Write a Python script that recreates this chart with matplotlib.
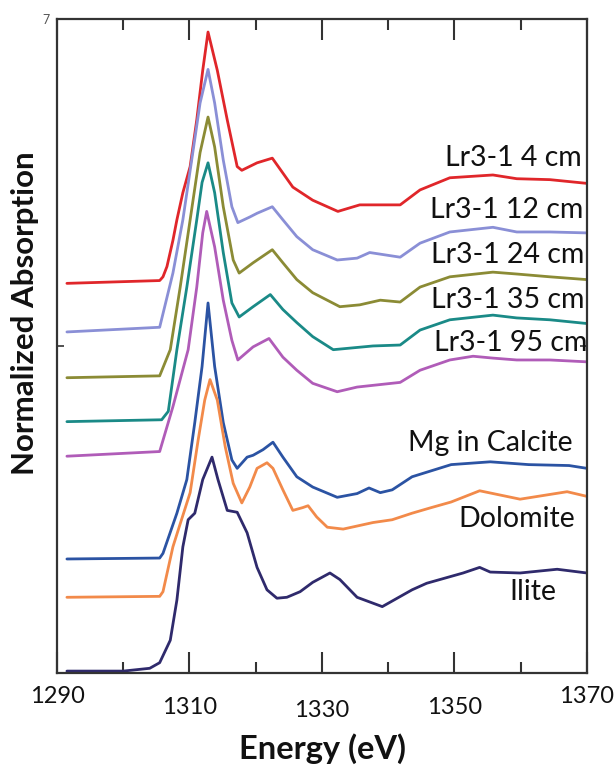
import matplotlib.pyplot as plt

# energy (eV) / normalized absorption (stacked, arbitrary offset units)
x_4cm = [1291.5, 1305.5, 1306.0, 1306.6, 1307.5, 1308.1, 1309.0, 1310.1, 1311.1, 1312.0, 1312.8,
         1314.2, 1315.7, 1317.2, 1317.9, 1320.2, 1322.5, 1324.1, 1325.6, 1328.6, 1332.4, 1335.7,
         1341.8, 1344.8, 1349.3, 1355.8, 1359.4, 1364.4, 1370.0]
y_4cm = [4.17, 4.20, 4.24, 4.35, 4.63, 4.85, 5.14, 5.42, 5.92, 6.45, 6.86,
         6.45, 5.92, 5.42, 5.38, 5.46, 5.51, 5.35, 5.20, 5.06, 4.94, 5.01,
         5.01, 5.17, 5.30, 5.33, 5.29, 5.28, 5.24]

x_12cm = [1291.5, 1305.5, 1307.5, 1309.0, 1310.5, 1311.6, 1312.8, 1313.8, 1315.1, 1316.4, 1317.3,
          1319.1, 1320.2, 1322.5, 1324.1, 1326.2, 1328.6, 1332.3, 1335.3, 1337.2, 1341.8, 1344.8,
          1349.3, 1355.8, 1359.4, 1364.4, 1370.0]
y_12cm = [3.65, 3.70, 4.28, 4.85, 5.57, 6.10, 6.46, 6.10, 5.49, 4.99, 4.82,
          4.88, 4.92, 4.99, 4.85, 4.67, 4.53, 4.42, 4.44, 4.50, 4.45, 4.60,
          4.72, 4.77, 4.72, 4.72, 4.71]

x_24cm = [1291.5, 1305.5, 1307.1, 1308.6, 1310.1, 1311.6, 1312.8, 1313.8, 1315.1, 1316.6, 1317.5,
          1319.6, 1322.5, 1324.1, 1326.2, 1328.6, 1332.7, 1335.7, 1338.8, 1341.8, 1344.8, 1349.3,
          1355.8, 1359.4, 1364.4, 1370.0]
y_24cm = [3.16, 3.18, 3.46, 4.13, 4.85, 5.57, 5.95, 5.63, 4.99, 4.42, 4.28,
          4.39, 4.53, 4.39, 4.21, 4.07, 3.92, 3.94, 3.99, 3.97, 4.13, 4.24,
          4.29, 4.27, 4.24, 4.21]

x_35cm = [1291.5, 1305.8, 1306.8, 1308.1, 1309.6, 1311.1, 1311.9, 1312.8, 1313.8, 1315.1, 1316.4,
          1317.5, 1319.6, 1322.2, 1324.1, 1326.2, 1328.6, 1331.7, 1337.7, 1341.8, 1344.8, 1349.3,
          1355.8, 1359.4, 1364.4, 1370.0]
y_35cm = [2.69, 2.71, 2.80, 3.46, 4.13, 4.85, 5.25, 5.46, 5.14, 4.50, 3.96,
          3.81, 3.92, 4.05, 3.89, 3.75, 3.60, 3.46, 3.50, 3.51, 3.67, 3.78,
          3.83, 3.80, 3.78, 3.74]

x_95cm = [1291.5, 1305.5, 1307.5, 1309.8, 1311.1, 1312.0, 1312.6, 1313.8, 1315.1, 1316.4, 1317.3,
          1319.6, 1322.0, 1324.1, 1326.2, 1328.6, 1332.3, 1335.3, 1341.8, 1344.8, 1349.3, 1352.8,
          1355.8, 1359.4, 1364.4, 1370.0]
y_95cm = [2.32, 2.37, 2.85, 3.46, 4.13, 4.71, 4.94, 4.56, 3.99, 3.56, 3.35,
          3.49, 3.58, 3.38, 3.24, 3.10, 3.01, 3.06, 3.11, 3.24, 3.35, 3.39,
          3.37, 3.35, 3.35, 3.33]

x_mg = [1291.5, 1305.5, 1306.0, 1308.1, 1309.6, 1310.8, 1311.9, 1312.8, 1313.8, 1315.1, 1316.4,
        1317.2, 1318.7, 1319.6, 1321.1, 1322.6, 1324.1, 1326.2, 1328.6, 1332.3, 1335.3, 1337.1,
        1338.8, 1340.6, 1343.6, 1349.5, 1355.4, 1361.2, 1367.3, 1370.0]
y_mg = [1.22, 1.23, 1.28, 1.71, 2.07, 2.68, 3.28, 3.96, 3.28, 2.68, 2.28,
        2.19, 2.31, 2.33, 2.39, 2.47, 2.31, 2.10, 1.99, 1.88, 1.92, 1.98,
        1.93, 1.96, 2.10, 2.23, 2.26, 2.23, 2.22, 2.19]

x_dolo = [1291.5, 1305.5, 1306.0, 1307.5, 1308.3, 1310.1, 1311.3, 1312.3, 1313.1, 1314.2, 1315.4,
          1316.6, 1317.9, 1319.1, 1320.2, 1321.7, 1322.6, 1324.1, 1325.6, 1327.1, 1327.9, 1329.2,
          1330.8, 1333.2, 1337.7, 1340.6, 1343.6, 1346.5, 1349.5, 1353.8, 1359.9, 1367.0, 1370.0]
y_dolo = [0.81, 0.82, 0.87, 1.35, 1.53, 1.93, 2.49, 2.92, 3.14, 2.92, 2.42,
          2.03, 1.82, 1.99, 2.19, 2.25, 2.19, 1.96, 1.74, 1.77, 1.79, 1.67,
          1.56, 1.54, 1.61, 1.64, 1.71, 1.77, 1.83, 1.95, 1.86, 1.94, 1.89]

x_ilite = [1291.5, 1300.0, 1304.0, 1305.5, 1307.1, 1308.1, 1309.0, 1309.8, 1310.8, 1312.0, 1313.4,
           1314.3, 1315.7, 1317.2, 1318.7, 1320.2, 1321.7, 1323.2, 1324.7, 1326.7, 1328.6, 1331.2,
           1332.7, 1335.3, 1339.1, 1343.6, 1345.8, 1351.3, 1353.8, 1355.4, 1359.9, 1365.5, 1370.0]
y_ilite = [0.02, 0.02, 0.05, 0.11, 0.35, 0.78, 1.35, 1.64, 1.71, 2.07, 2.31,
           2.07, 1.74, 1.72, 1.50, 1.13, 0.89, 0.80, 0.81, 0.87, 0.97, 1.07,
           1.00, 0.81, 0.71, 0.89, 0.96, 1.07, 1.13, 1.08, 1.07, 1.11, 1.07]

names = ['Lr3-1 4 cm', 'Lr3-1 12 cm', 'Lr3-1 24 cm', 'Lr3-1 35 cm', 'Lr3-1 95 cm',
         'Mg in Calcite', 'Dolomite', 'Ilite']
xs = [x_4cm, x_12cm, x_24cm, x_35cm, x_95cm, x_mg, x_dolo, x_ilite]
ys = [y_4cm, y_12cm, y_24cm, y_35cm, y_95cm, y_mg, y_dolo, y_ilite]
colors = ['#e0262a', '#8a8fd6', '#8b8b35', '#1a8a87', '#b05cb8', '#2b53a3', '#f28a4a', '#2f2a6c']

x_major = [1290, 1310, 1330, 1350, 1370]
x_minor = [1300, 1320, 1340, 1360]

plt.rcParams['font.family'] = ['Lato', 'DejaVu Sans']

fig = plt.figure(figsize=(6.14, 7.67), dpi=100)
ax = fig.add_axes([0.0928, 0.1226, 0.8632, 0.8527])

for x, y, c in zip(xs, ys, colors):
    ax.plot(x, y, color=c, lw=2.0, solid_joinstyle='round', solid_capstyle='round')

ax.set_xlim(1290, 1370)
ax.set_ylim(0, 7)

spine_col = '#333333'
for s in ax.spines.values():
    s.set_color(spine_col)
    s.set_linewidth(1.6)

# inward ticks: long at 1310/1330/1350, short at the 10s, mirrored on top
ax.set_xticks(x_major)
ax.set_xticks(x_minor, minor=True)
ax.tick_params(axis='x', which='both', direction='in', bottom=True, top=True,
               labelbottom=False, color=spine_col, width=1.5)
ax.tick_params(axis='x', which='major', length=15)
ax.tick_params(axis='x', which='minor', length=8)

ax.set_yticks([3.5, 7])
ax.set_yticklabels(['', '7'])
ax.tick_params(axis='y', direction='in', left=True, right=True, length=5, width=1.2,
               color=spine_col, pad=5, labelsize=9, labelcolor='#555555')

# tick labels sit at slightly different heights in the original
label_drop = [17, 25, 27, 25, 17]
for xv, dy in zip(x_major, label_drop):
    ax.annotate(str(xv), (xv, 0), xycoords=('data', 'axes fraction'),
                xytext=(0, -dy), textcoords='offset points',
                ha='center', va='center', fontsize=17, color='#111111')

label_pos = [(0.991, 0.787), (0.993, 0.708), (0.996, 0.639), (0.996, 0.570), (1.0, 0.505),
             (0.973, 0.352), (0.977, 0.236), (0.943, 0.124)]
for name, (lx, ly) in zip(names, label_pos):
    ax.text(lx, ly, name, transform=ax.transAxes, ha='right', va='center',
            fontsize=20.5, color='#111111')

fig.text(0.041, 0.592, 'Normalized Absorption', rotation=90, ha='center', va='center',
         fontsize=22.5, fontweight='bold', color='#111111')
fig.text(0.525, 0.024, 'Energy (eV)', ha='center', va='center',
         fontsize=23.5, fontweight='bold', color='#111111')

fig.savefig('out.png', dpi=100)
